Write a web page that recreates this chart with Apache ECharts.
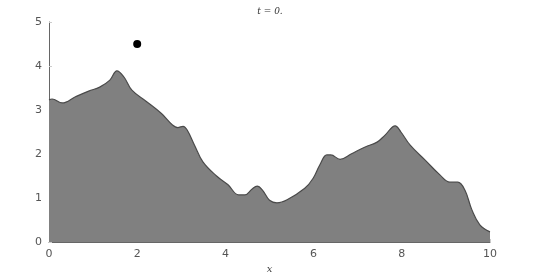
<!DOCTYPE html>
<html><head><meta charset="utf-8">
<script src="https://cdn.jsdelivr.net/npm/echarts@6/dist/echarts.min.js"></script>
<style>html,body{margin:0;padding:0;background:#fff}#c{width:540px;height:275px}</style>
</head><body><div id="c"></div>
<script>
const xs = [0, 0.07, 0.3, 0.6, 0.9, 1.15, 1.38, 1.54, 1.7, 1.88, 2.2, 2.55, 2.8, 2.92, 3.04, 3.13, 3.3, 3.49, 3.8, 4.06, 4.3, 4.44, 4.6, 4.72, 4.84, 5.0, 5.17, 5.4, 5.8, 5.99, 6.14, 6.3, 6.39, 6.6, 6.85, 7.17, 7.44, 7.62, 7.85, 7.98, 8.19, 8.53, 8.87, 9.09, 9.27, 9.43, 9.59, 9.77, 10];
const ys = [3.23, 3.25, 3.16, 3.3, 3.43, 3.52, 3.68, 3.89, 3.75, 3.45, 3.2, 2.92, 2.66, 2.6, 2.63, 2.55, 2.2, 1.82, 1.5, 1.3, 1.07, 1.07, 1.2, 1.27, 1.18, 0.95, 0.89, 0.96, 1.22, 1.45, 1.75, 1.98, 1.98, 1.88, 2.0, 2.16, 2.27, 2.43, 2.64, 2.5, 2.2, 1.86, 1.52, 1.36, 1.36, 1.18, 0.73, 0.39, 0.23];
const dot = [[2, 4.5]];
const xTicks = [0, 2, 4, 6, 8, 10];
const yTicks = [0, 1, 2, 3, 4, 5];
const titleText = 't = 0.';
const xName = 'x';

const chart = echarts.init(document.getElementById('c'), null, {renderer: 'canvas'});
chart.setOption({
  animation: false,
  backgroundColor: '#fff',
  title: {text: titleText, left: 'center', top: 2,
    textStyle: {fontSize: 9, fontWeight: 'normal', fontStyle: 'italic', color: '#333', fontFamily: 'DejaVu Serif'}},
  grid: {left: 49, right: 50, top: 22, bottom: 33, containLabel: false, outerBoundsMode: 'none'},
  xAxis: {type: 'value', min: 0, max: 10, interval: 2,
    name: xName, nameLocation: 'middle', nameGap: 17,
    nameTextStyle: {fontStyle: 'italic', fontSize: 10, color: '#444', fontFamily: 'DejaVu Serif'},
    axisLine: {lineStyle: {color: '#666', width: 1}},
    axisTick: {show: true, inside: true, length: 3, lineStyle: {color: '#ccc'}},
    axisLabel: {color: '#555', fontSize: 11, margin: 7, fontFamily: 'DejaVu Sans'},
    splitLine: {show: false}},
  yAxis: {type: 'value', min: 0, max: 5, interval: 1,
    axisLine: {show: true, lineStyle: {color: '#666', width: 1}},
    axisTick: {show: true, inside: true, length: 3, lineStyle: {color: '#ccc'}},
    axisLabel: {color: '#555', fontSize: 11, margin: 7, fontFamily: 'DejaVu Sans'},
    splitLine: {show: false}},
  series: [
    {type: 'line', data: xs.map((x, i) => [x, ys[i]]), smooth: 0.4, symbol: 'none',
     lineStyle: {color: '#4a4a4a', width: 1.2},
     areaStyle: {color: '#808080', opacity: 1}, z: 2},
    {type: 'scatter', data: dot, symbolSize: 8, itemStyle: {color: '#000', opacity: 1}, z: 3}
  ]
});
</script></body></html>
